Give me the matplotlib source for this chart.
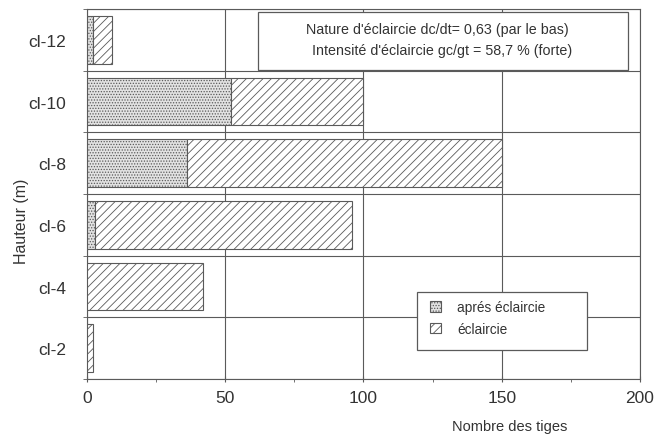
import matplotlib
matplotlib.use("Agg")
import matplotlib.pyplot as plt
from matplotlib.patches import Rectangle, Patch
import numpy as np

plt.rcParams['font.family'] = ['Liberation Sans', 'DejaVu Sans']
plt.rcParams['hatch.linewidth'] = 0.6

# classes de hauteur (bas -> haut)
classes = ['cl-2', 'cl-4', 'cl-6', 'cl-8', 'cl-10', 'cl-12']
apres = [0, 0, 3, 36, 52, 2]          # tiges restantes après éclaircie
eclaircie = [2, 42, 93, 114, 48, 7]   # tiges enlevées
xticks = [0, 50, 100, 150, 200]

txt_color = '#333333'
line_color = '#5a5a5a'

fig = plt.figure(figsize=(6.6, 4.39), dpi=100)
ax = fig.add_axes([0.1318, 0.1344, 0.8379, 0.8428])

y = np.arange(len(classes))
h = 0.77
ax.barh(y, apres, height=h, color='#e2e2e2', edgecolor=line_color,
        hatch='......', linewidth=0.8, zorder=3)
ax.barh(y, eclaircie, left=apres, height=h, color='white', edgecolor=line_color,
        hatch='////', linewidth=0.8, zorder=3)

ax.set_xlim(0, 200)
ax.set_ylim(-0.5, len(classes) - 0.5)
ax.set_xticks(xticks)
ax.set_xticks([25, 75, 125, 175], minor=True)
ax.set_yticks(y)
ax.set_yticklabels(classes)
ax.set_yticks(np.arange(-0.5, len(classes)), minor=True)

ax.tick_params(axis='both', which='major', labelsize=12.5, colors=line_color,
               labelcolor=txt_color)
ax.tick_params(axis='y', which='major', length=0, pad=15)
ax.tick_params(axis='y', which='minor', length=3, color=line_color)
ax.tick_params(axis='x', which='major', length=4, direction='inout', pad=6)
ax.tick_params(axis='x', which='minor', length=2, color=line_color)

ax.grid(True, axis='x', which='major', color=line_color, linewidth=0.8, zorder=1)
ax.grid(True, axis='y', which='minor', color=line_color, linewidth=0.8, zorder=1)
for s in ax.spines.values():
    s.set_color(line_color)
    s.set_linewidth(0.8)

ax.set_ylabel('Hauteur (m)', fontsize=11.5, color=txt_color)
ax.yaxis.set_label_coords(-0.105, 0.43)
ax.set_xlabel('Nombre des tiges', fontsize=10.5, color=txt_color)
ax.xaxis.set_label_coords(0.765, -0.108)

# encadré avec les caractéristiques de l'éclaircie
ax.add_patch(Rectangle((0.309, 0.836), 0.669, 0.156, transform=ax.transAxes,
                       facecolor='white', edgecolor=line_color, linewidth=0.9,
                       zorder=5))
ax.text(0.633, 0.946, "Nature d'éclaircie dc/dt= 0,63 (par le bas)",
        transform=ax.transAxes, ha='center', va='center', fontsize=10.3,
        color=txt_color, zorder=6)
ax.text(0.642, 0.889, "Intensité d'éclaircie gc/gt = 58,7 % (forte)",
        transform=ax.transAxes, ha='center', va='center', fontsize=10.3,
        color=txt_color, zorder=6)

# légende
ax.add_patch(Rectangle((0.597, 0.078), 0.307, 0.157, transform=ax.transAxes,
                       facecolor='white', edgecolor=line_color, linewidth=0.9,
                       zorder=5))
handles = [Patch(facecolor='#e2e2e2', edgecolor=line_color, hatch='......', linewidth=0.8),
           Patch(facecolor='white', edgecolor=line_color, hatch='////', linewidth=0.8)]
leg = ax.legend(handles, ['aprés éclaircie', 'éclaircie'], loc='upper left',
                bbox_to_anchor=(0.61, 0.228), frameon=False, fontsize=9.8,
                handlelength=0.8, handleheight=0.8, handletextpad=1.2,
                labelspacing=0.55, borderaxespad=0)
leg.set_zorder(6)
for t in leg.get_texts():
    t.set_color(txt_color)

fig.savefig('out.png', dpi=100)
